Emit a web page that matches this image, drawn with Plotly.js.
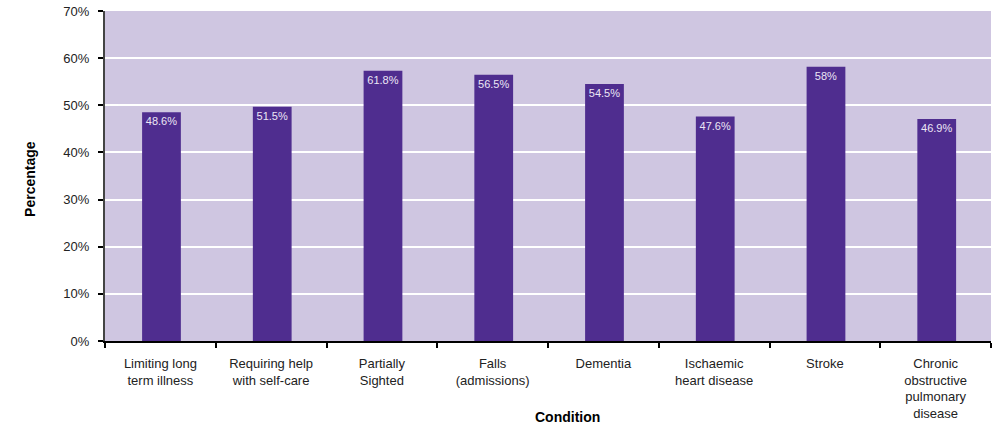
<!DOCTYPE html>
<html>
<head>
<meta charset="utf-8">
<script src="https://cdn.plot.ly/plotly-3.0.1.min.js"></script>
<style>
html,body{margin:0;padding:0;background:#fff;}
#chart{width:998px;height:425px;}
</style>
</head>
<body>
<div id="chart"></div>
<script>
const categories = [
  "Limiting long<br>term illness",
  "Requiring help<br>with self-care",
  "Partially<br>Sighted",
  "Falls<br>(admissions)",
  "Dementia",
  "Ischaemic<br>heart disease",
  "Stroke",
  "Chronic<br>obstructive<br>pulmonary<br>disease"
];
// bar heights as drawn in the reference
const barValues = [48.5, 49.7, 57.3, 56.5, 54.5, 47.6, 58.2, 47.1];
// value labels as printed in the reference
const valueLabels = ["48.6%", "51.5%", "61.8%", "56.5%", "54.5%", "47.6%", "58%", "46.9%"];
const yTickVals = [0, 10, 20, 30, 40, 50, 60, 70];
const yTickText = ["0%", "10%", "20%", "30%", "40%", "50%", "60%", "70%"];

const trace = {
  type: "bar",
  x: categories,
  y: barValues,
  text: valueLabels,
  textposition: "inside",
  insidetextanchor: "end",
  textangle: 0,
  texttemplate: "%{text}",
  insidetextfont: {family: "Liberation Sans, Arial, sans-serif", size: 11, color: "#ece6f5"},
  marker: {color: "#4f2d8f", line: {width: 0}},
  width: 0.35,
  offset: -0.165,
  hoverinfo: "none",
  cliponaxis: false
};

const layout = {
  width: 998,
  height: 425,
  margin: {l: 105, r: 7, t: 11, b: 84},
  paper_bgcolor: "#ffffff",
  plot_bgcolor: "#cfc6e1",
  showlegend: false,
  font: {family: "Liberation Sans, Arial, sans-serif", size: 13, color: "#222"},
  xaxis: {
    type: "category",
    tickson: "boundaries",
    ticks: "outside",
    ticklen: 5,
    tickwidth: 2,
    tickcolor: "#000",
    ticklabelstandoff: 9,
    showline: true,
    linecolor: "#000",
    linewidth: 2,
    showgrid: false,
    tickfont: {size: 13, color: "#222"},
    title: {text: ""}
  },
  yaxis: {
    range: [0, 70],
    tickvals: yTickVals,
    ticktext: yTickText,
    ticks: "outside",
    ticklen: 5,
    tickwidth: 2,
    tickcolor: "#000",
    ticklabelstandoff: 6,
    showline: true,
    linecolor: "#444",
    linewidth: 2,
    showgrid: true,
    gridcolor: "#ffffff",
    gridwidth: 2,
    zeroline: false,
    tickfont: {size: 13, color: "#222"},
    title: {text: ""}
  },
  annotations: [
    {
      text: "<b>Percentage</b>",
      xref: "paper", yref: "paper",
      x: -0.084, y: 0.49,
      xanchor: "center", yanchor: "middle",
      textangle: -90, showarrow: false,
      font: {family: "Liberation Sans Narrow, Arial Narrow, Liberation Sans, sans-serif", size: 14, color: "#000"}
    },
    {
      text: "<b>Condition</b>",
      xref: "paper", yref: "paper",
      x: 0.522, y: -0.231,
      xanchor: "center", yanchor: "middle",
      showarrow: false,
      font: {family: "Liberation Sans Narrow, Arial Narrow, Liberation Sans, sans-serif", size: 14, color: "#000"}
    }
  ]
};

Plotly.newPlot("chart", [trace], layout, {displayModeBar: false, staticPlot: true});
</script>
</body>
</html>
